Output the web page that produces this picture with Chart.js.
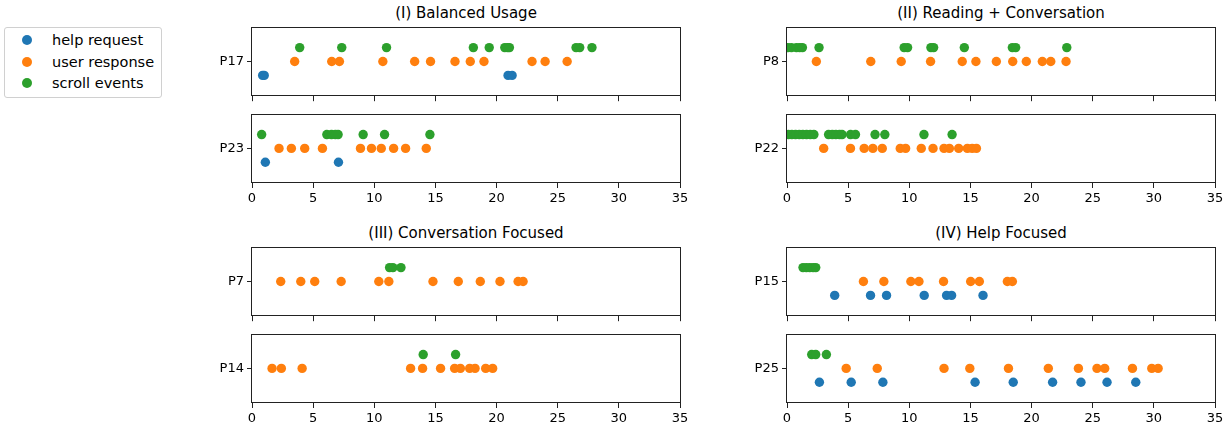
<!DOCTYPE html>
<html>
<head>
<meta charset="utf-8">
<script src="https://cdn.jsdelivr.net/npm/chart.js@4.4.1/dist/chart.umd.min.js"></script>
<style>
  body { margin: 0; background: #fff; font-family: "DejaVu Sans", sans-serif; }
  #wrap { position: relative; width: 1231px; height: 429px; overflow: hidden; }
  canvas { position: absolute; }
  .title { position: absolute; width: 428px; text-align: center; font-size: 15px; line-height: 18px; color: #000; }
  #legend { position: absolute; left: 4px; top: 27px; width: 156px; height: 69px; border: 1px solid #d0d0d0; border-radius: 3px; }
  .item { position: absolute; left: 0; font-size: 14.5px; line-height: 18px; color: #000; }
  .dot { position: absolute; left: 17px; top: 4px; width: 10px; height: 10px; border-radius: 50%; }
  .lbl { position: absolute; left: 47px; top: 0; white-space: nowrap; }
</style>
</head>
<body>
<div id="wrap">
  <div class="title" style="left:252px; top:4px">(I) Balanced Usage</div>
  <div class="title" style="left:787px; top:4px">(II) Reading + Conversation</div>
  <div class="title" style="left:252px; top:224px">(III) Conversation Focused</div>
  <div class="title" style="left:787px; top:224px">(IV) Help Focused</div>
  <div id="legend"></div>
</div>
<script>
// event times per participant (x axis, 0-35)
const p17Help = [0.87, 1.0, 20.94, 21.27];
const p17Resp = [3.49, 6.52, 7.15, 10.7, 13.3, 14.6, 16.6, 17.85, 18.97, 22.9, 23.97, 25.77];
const p17Scroll = [3.9, 7.34, 11.0, 18.1, 19.4, 20.67, 20.9, 21.05, 26.5, 26.8, 27.8];

const p23Help = [1.09, 7.07];
const p23Resp = [2.21, 3.22, 4.31, 5.76, 8.87, 9.77, 10.57, 11.58, 12.56, 14.25];
const p23Scroll = [0.79, 6.12, 6.5, 6.82, 7.04, 9.09, 10.84, 14.55];

const p8Help = [];
const p8Resp = [2.4, 6.85, 9.34, 11.74, 14.33, 15.45, 17.12, 18.46, 19.57, 20.88, 21.57, 22.82];
const p8Scroll = [0.08, 0.36, 0.77, 1.04, 1.26, 2.62, 9.58, 9.86, 11.77, 11.99, 14.5, 18.43, 18.7, 22.88];

const p22Help = [];
const p22Resp = [3.0, 5.19, 6.31, 7.02, 7.79, 9.26, 9.7, 10.98, 11.94, 12.84, 13.28, 14.04, 14.75, 15.14, 15.49];
const p22Scroll = [0.1, 0.4, 0.7, 1.0, 1.3, 1.6, 1.9, 2.2, 3.4, 3.7, 4.0, 4.3, 4.5, 5.2, 5.6, 7.2, 8.0, 11.2, 13.5];

const p7Help = [];
const p7Resp = [2.35, 3.99, 5.13, 7.29, 10.37, 11.19, 14.8, 16.87, 18.67, 20.28, 21.76, 22.17];
const p7Scroll = [11.25, 11.52, 12.18];

const p14Help = [];
const p14Resp = [1.64, 2.4, 4.1, 12.97, 13.95, 15.42, 16.57, 17.04, 17.8, 18.24, 19.11, 19.68];
const p14Scroll = [14.0, 16.65];

const p15Help = [3.9, 6.83, 8.14, 11.22, 13.05, 13.46, 16.03];
const p15Resp = [6.25, 7.92, 10.13, 10.79, 12.8, 15.02, 15.73, 18.02, 18.43];
const p15Scroll = [1.31, 1.58, 1.86, 2.13, 2.35];

const p25Help = [2.65, 5.25, 7.84, 15.38, 18.5, 21.72, 24.04, 26.17, 28.52];
const p25Resp = [4.84, 7.38, 12.84, 14.95, 18.11, 21.37, 23.83, 25.35, 25.98, 28.25, 29.83, 30.35];
const p25Scroll = [2.02, 2.35, 3.22];

const seriesNames = ['help request', 'user response', 'scroll events'];
const seriesColors = ['#1f77b4', '#ff7f0e', '#2ca02c'];
const seriesRows = [-1, 0, 1];
const xTicks = [0, 5, 10, 15, 20, 25, 30, 35];

// legend
var leg = document.getElementById('legend');
for (var i = 0; i < seriesNames.length; i++) {
  var it = document.createElement('div');
  it.className = 'item';
  it.style.top = (3 + i * 21.5) + 'px';
  it.innerHTML = '<span class="dot" style="background:' + seriesColors[i] + '"></span><span class="lbl">' + seriesNames[i] + '</span>';
  leg.appendChild(it);
}

const panels = [
  { name: 'P17', left: 252, top: 26, h: 71, axis: false, data: [p17Help, p17Resp, p17Scroll] },
  { name: 'P23', left: 252, top: 113, h: 70, axis: true, data: [p23Help, p23Resp, p23Scroll] },
  { name: 'P8', left: 787, top: 26, h: 71, axis: false, data: [p8Help, p8Resp, p8Scroll] },
  { name: 'P22', left: 787, top: 113, h: 70, axis: true, data: [p22Help, p22Resp, p22Scroll] },
  { name: 'P7', left: 252, top: 246, h: 71, axis: false, data: [p7Help, p7Resp, p7Scroll] },
  { name: 'P14', left: 252, top: 333, h: 70, axis: true, data: [p14Help, p14Resp, p14Scroll] },
  { name: 'P15', left: 787, top: 246, h: 71, axis: false, data: [p15Help, p15Resp, p15Scroll] },
  { name: 'P25', left: 787, top: 333, h: 70, axis: true, data: [p25Help, p25Resp, p25Scroll] }
];

// draws the four spines like matplotlib
const frame = {
  id: 'frame',
  afterDraw(chart) {
    const a = chart.chartArea;
    const c = chart.ctx;
    c.save();
    c.strokeStyle = '#222';
    c.lineWidth = 1;
    c.strokeRect(Math.round(a.left) - 0.5, Math.round(a.top) + 0.5, Math.round(a.right - a.left) + 1, Math.round(a.bottom - a.top) - 1);
    c.restore();
  }
};

const wrap = document.getElementById('wrap');
panels.forEach(function (p) {
  var xH = p.axis ? 28 : 6;
  var cv = document.createElement('canvas');
  cv.width = 60 + 428 + 20;
  cv.height = 10 + p.h + xH + 4;
  cv.style.left = (p.left - 60) + 'px';
  cv.style.top = (p.top - 10) + 'px';
  wrap.appendChild(cv);

  var datasets = [];
  for (var s = 0; s < 3; s++) {
    datasets.push({
      label: seriesNames[s],
      data: p.data[s].map(function (v) { return { x: v, y: seriesRows[s] }; }),
      backgroundColor: seriesColors[s],
      borderWidth: 0,
      pointRadius: 4.7,
      pointHoverRadius: 4.7,
      clip: 0
    });
  }

  new Chart(cv.getContext('2d'), {
    type: 'scatter',
    data: { datasets: datasets },
    plugins: [frame],
    options: {
      responsive: false,
      animation: false,
      events: [],
      layout: { padding: { top: 10, right: 20, bottom: 4, left: 0 } },
      plugins: { legend: { display: false }, tooltip: { enabled: false } },
      scales: {
        x: {
          type: 'linear', min: 0, max: 35,
          afterBuildTicks: function (sc) { sc.ticks = xTicks.map(function (v) { return { value: v }; }); },
          afterFit: function (sc) { sc.height = xH; },
          border: { display: false },
          grid: { drawOnChartArea: false, drawTicks: true, tickLength: 5, color: '#222' },
          ticks: { display: p.axis, padding: 3, color: '#000', font: { family: 'DejaVu Sans', size: 13 } }
        },
        y: {
          type: 'linear', min: -2.5, max: 2.5,
          afterBuildTicks: function (sc) { sc.ticks = [{ value: 0 }]; },
          afterFit: function (sc) { sc.width = 60; },
          border: { display: false },
          grid: { drawOnChartArea: false, drawTicks: true, tickLength: 5, color: '#222' },
          ticks: {
            padding: 3, color: '#000', font: { family: 'DejaVu Sans', size: 13 },
            callback: function () { return p.name; }
          }
        }
      }
    }
  });
});
</script>
</body>
</html>
